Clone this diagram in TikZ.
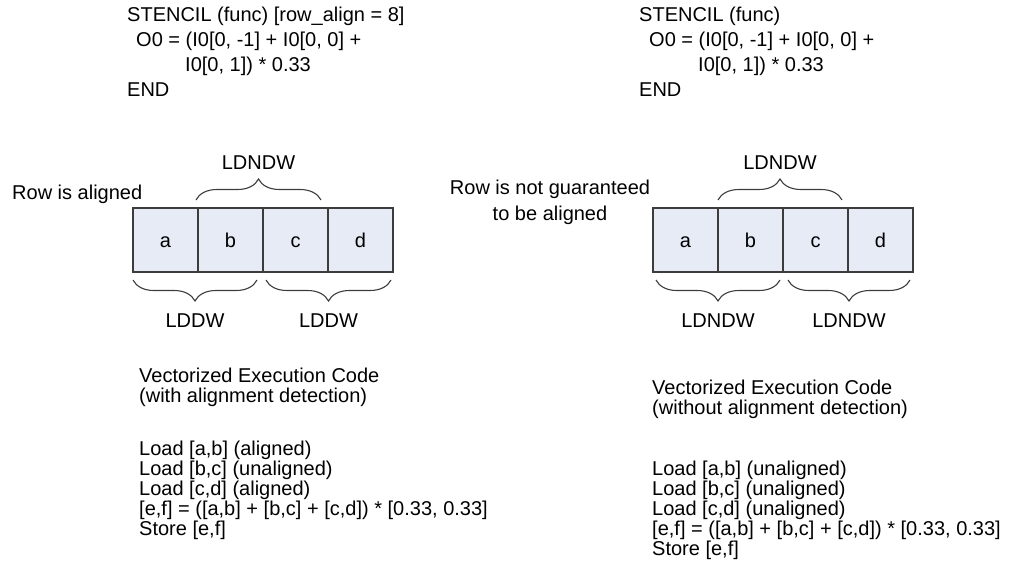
\documentclass[tikz,border=0pt]{standalone}
\usepackage{fontspec}
\setmainfont{Liberation Sans}
\usetikzlibrary{decorations.pathreplacing}
\definecolor{cellfill}{RGB}{230,235,246}
\definecolor{edge}{RGB}{60,60,60}
\tikzset{
  txt/.style={anchor=base west, inner sep=0pt, font=\fontsize{20}{25}\selectfont},
  lbl/.style={anchor=base, inner sep=0pt, font=\fontsize{20}{25}\selectfont},
  cell/.style={draw=edge, fill=cellfill, line width=1.3pt, minimum width=65pt,
    minimum height=64pt, inner sep=0pt, outer sep=0pt, text height=14pt, text depth=0pt,
    font=\fontsize{20}{24}\selectfont},
  brc/.style={draw=edge, line width=1.1pt, decorate, decoration={brace, amplitude=21pt}},
}
\begin{document}
\begin{tikzpicture}[x=1pt, y=-1pt]
\useasboundingbox (0,0) rectangle (1016,573);

% ---------- left: aligned row ----------
\node[txt] (lc1) at (127,21) {STENCIL (func) [row\_align = 8]};
\node[txt] (lc2) at (136,46) {O0 = (I0[0, -1] + I0[0, 0] +};
\node[txt] (lc3) at (185,71) {I0[0, 1]) * 0.33};
\node[txt] (lc4) at (127,96) {END};

\node[txt] (lrow) at (12,199) {Row is aligned};

\node[cell] (la) at (165.5,240) {a};
\node[cell] (lb) at (230.5,240) {b};
\node[cell] (lcc) at (295.5,240) {c};
\node[cell] (ld) at (360.5,240) {d};

\coordinate (ltA) at (196,200); \coordinate (ltB) at (321,200);
\draw[brc] (ltA) -- (ltB);
\node[lbl] (ltl) at (258.5,169) {LDNDW};

\coordinate (lb1A) at (257,280); \coordinate (lb1B) at (133,280);
\coordinate (lb2A) at (391,280); \coordinate (lb2B) at (266,280);
\draw[brc] (lb1A) -- (lb1B);
\draw[brc] (lb2A) -- (lb2B);
\node[lbl] (lbl1) at (195,327) {LDDW};
\node[lbl] (lbl2) at (328.5,327) {LDDW};

\node[txt] (lv1) at (139,382) {Vectorized Execution Code};
\node[txt] (lv2) at (139,402) {(with alignment detection)};
\node[txt] (lv3) at (139,455) {Load [a,b] (aligned)};
\node[txt] (lv4) at (139,475) {Load [b,c] (unaligned)};
\node[txt] (lv5) at (139,495) {Load [c,d] (aligned)};
\node[txt] (lv6) at (139,515) {[e,f] = ([a,b] + [b,c] + [c,d]) * [0.33, 0.33]};
\node[txt] (lv7) at (139,535) {Store [e,f]};

% ---------- right: row without alignment guarantee ----------
\node[txt] (rc1) at (639,21) {STENCIL (func)};
\node[txt] (rc2) at (649,46) {O0 = (I0[0, -1] + I0[0, 0] +};
\node[txt] (rc3) at (698,71) {I0[0, 1]) * 0.33};
\node[txt] (rc4) at (639,96) {END};

\node[lbl] (rrow1) at (550,194) {Row is not guaranteed};
\node[lbl] (rrow2) at (550,220) {to be aligned};

\node[cell] (ra) at (685.5,240) {a};
\node[cell] (rb) at (750.5,240) {b};
\node[cell] (rcc) at (815.5,240) {c};
\node[cell] (rd) at (880.5,240) {d};

\coordinate (rtA) at (718,200); \coordinate (rtB) at (842,200);
\draw[brc] (rtA) -- (rtB);
\node[lbl] (rtl) at (780,169) {LDNDW};

\coordinate (rb1A) at (780,280); \coordinate (rb1B) at (656,280);
\coordinate (rb2A) at (910,280); \coordinate (rb2B) at (788,280);
\draw[brc] (rb1A) -- (rb1B);
\draw[brc] (rb2A) -- (rb2B);
\node[lbl] (rbl1) at (718,327) {LDNDW};
\node[lbl] (rbl2) at (849,327) {LDNDW};

\node[txt] (rv1) at (652,394) {Vectorized Execution Code};
\node[txt] (rv2) at (652,414) {(without alignment detection)};
\node[txt] (rv3) at (652,475) {Load [a,b] (unaligned)};
\node[txt] (rv4) at (652,495) {Load [b,c] (unaligned)};
\node[txt] (rv5) at (652,515) {Load [c,d] (unaligned)};
\node[txt] (rv6) at (652,535) {[e,f] = ([a,b] + [b,c] + [c,d]) * [0.33, 0.33]};
\node[txt] (rv7) at (652,555) {Store [e,f]};
\end{tikzpicture}
\end{document}
